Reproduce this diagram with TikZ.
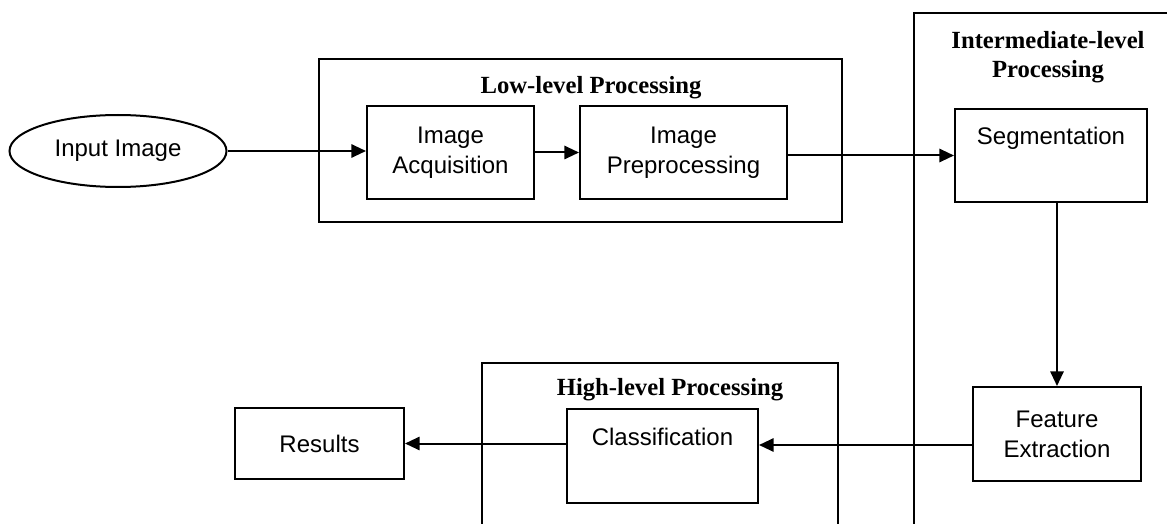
\documentclass[tikz,border=0pt]{standalone}
\usepackage{fontspec}
\setmainfont{Liberation Serif}
\newfontfamily\boxfont{Liberation Sans}
\usetikzlibrary{shapes.geometric,arrows.meta}

\begin{document}
\begin{tikzpicture}[x=0.75pt,y=-0.75pt,
  every node/.style={inner sep=0pt},
  frame/.style={line width=1.5pt},
  stage/.style={draw,line width=1.5pt,rectangle,align=center,
    font=\boxfont\fontsize{18}{22.5}\selectfont},
  title/.style={align=center,font=\bfseries\fontsize{18.5}{21.75}\selectfont},
  arr/.style={line width=1.5pt,-{Triangle[length=11pt,width=10pt]}}
]
\useasboundingbox (0,0) rectangle (1167,524);

% group frames
\draw[frame] (319,59) rectangle (842,222);
\draw[frame] (914,530) -- (914,13) -- (1172,13);
\draw[frame] (482,530) -- (482,363) -- (838,363) -- (838,530);

% group titles
\node[title] (lowt) at (591,88) {Low-level Processing};
\node[title] (midt) at (1048,57) {Intermediate-level\\Processing};
\node[title] (hight) at (670,390) {High-level Processing};

% stages
\node[stage,ellipse,minimum width=162.75pt,minimum height=54pt] (in) at (118,151) {Input Image};
\node[stage,minimum width=125.25pt,minimum height=69.75pt] (acq) at (450.5,152.5) {Image\\Acquisition};
\node[stage,minimum width=155.25pt,minimum height=69.75pt] (pre) at (683.5,152.5) {Image\\Preprocessing};
\node[stage,minimum width=144pt,minimum height=69.75pt] (seg) at (1051,155.5) {Segmentation\\\strut};
\node[stage,minimum width=126pt,minimum height=70.5pt] (feat) at (1057,434) {Feature\\Extraction};
\node[stage,minimum width=143.25pt,minimum height=70.5pt] (cls) at (662.5,456) {Classification\\\strut};
\node[stage,minimum width=126.75pt,minimum height=53.25pt] (res) at (319.5,443.5) {Results};

% connectors
\draw[arr] (in.east) -- (in.east -| acq.west);
\draw[arr] (acq) -- (pre);
\draw[arr] (pre.east |- seg.west) -- (seg.west);
\draw[arr] (feat.north |- seg.south) -- (feat.north);
\draw[arr] ([yshift=-8.25pt]feat.west) -- ([yshift=-8.25pt]feat.west -| cls.east);
\draw[arr] (cls.west |- res.east) -- (res.east);
\end{tikzpicture}
\end{document}
